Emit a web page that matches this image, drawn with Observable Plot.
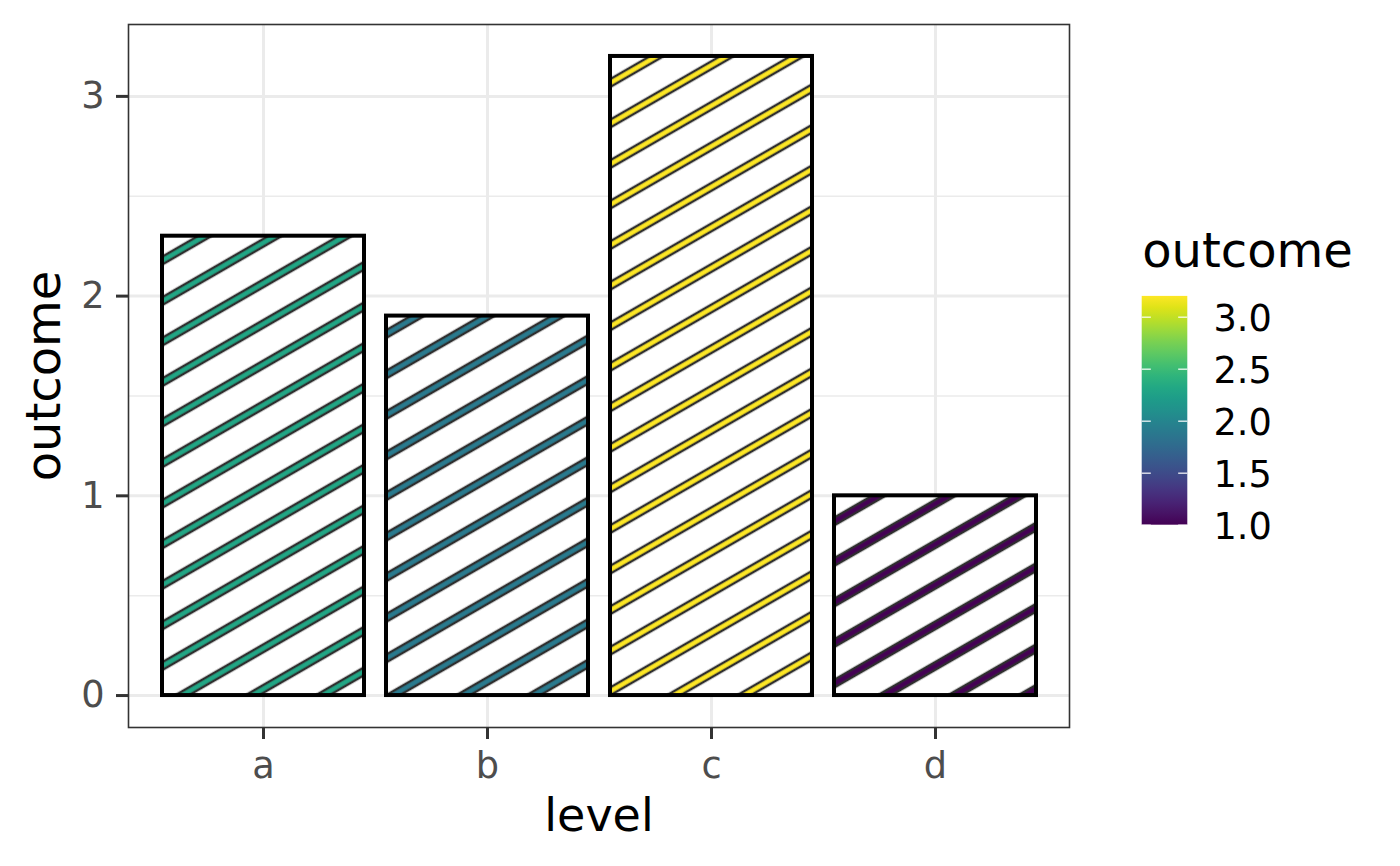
<!DOCTYPE html>
<html><head><meta charset="utf-8">
<script src="https://cdn.jsdelivr.net/npm/d3@7"></script>
<script src="https://cdn.jsdelivr.net/npm/@observablehq/plot@0.6"></script>
<style>
body{margin:0;background:#fff;}
#wrap{position:relative;width:1400px;height:866px;font-family:"DejaVu Sans",sans-serif;}
#wrap svg{position:absolute;top:0;left:0;overflow:visible;}
</style></head><body><div id="wrap"></div>
<script>
const levels = ["a", "b", "c", "d"];
const outcome = [2.3, 1.9, 3.2, 1.0];
const yTicks = [0, 1, 2, 3];
const yMinor = [0.5, 1.5, 2.5];
const legendTicks = [1.0, 1.5, 2.0, 2.5, 3.0];
const legendLabels = ["1.0", "1.5", "2.0", "2.5", "3.0"];

const data = levels.map((level, i) => ({level, outcome: outcome[i]}));
const color = Plot.scale({color: {type: "linear", scheme: "viridis", domain: [d3.min(outcome), d3.max(outcome)]}});

const FONT = "DejaVu Sans";
const main = Plot.plot({
  width: 1400, height: 866,
  marginLeft: 128, marginRight: 331, marginTop: 24, marginBottom: 139,
  style: {fontFamily: FONT, background: "transparent", overflow: "visible"},
  x: {type: "band", domain: levels, paddingInner: 0.1, paddingOuter: 0.15},
  y: {domain: [-0.16, 3.36]},
  marks: [
    Plot.gridY({ticks: yMinor, stroke: "#EBEBEB", strokeOpacity: 1, strokeWidth: 1.5}),
    Plot.gridY({ticks: yTicks, stroke: "#EBEBEB", strokeOpacity: 1, strokeWidth: 3}),
    Plot.gridX({stroke: "#EBEBEB", strokeOpacity: 1, strokeWidth: 3}),
    ...data.map(d => Plot.barY([d], {x: "level", y: "outcome", fill: `url(#stripe-${d.level})`})),
    Plot.barY(data, {x: "level", y: "outcome", fill: "none", stroke: "black", strokeWidth: 4}),
    Plot.frame({stroke: "#333333", strokeWidth: 1.6}),
    Plot.axisY({ticks: yTicks, tickFormat: d => String(d), tickSize: 12, tickPadding: 12, fontSize: 36.7, color: "#4D4D4D", stroke: "#333333", strokeWidth: 3, label: null}),
    Plot.axisX({tickSize: 12, tickPadding: 12, fontSize: 36.7, color: "#4D4D4D", stroke: "#333333", strokeWidth: 3, label: null}),
    Plot.text(["level"], {text: d => d, frameAnchor: "bottom", lineAnchor: "middle", textAnchor: "middle", dy: 88.3, fontSize: 46, fill: "black"}),
    Plot.text(["outcome"], {text: d => d, frameAnchor: "left", lineAnchor: "middle", textAnchor: "middle", rotate: -90, dx: -84, fontSize: 48, fill: "black"})
  ]
});

// stripe patterns (ggpattern-like): 30 degree stripes, global phase
const H = 35.12, V0 = 25.85, SW = 6.8;
let defs = "<defs>";
data.forEach(d => {
  const col = color.apply(d.outcome);
  defs += `<pattern id="stripe-${d.level}" patternUnits="userSpaceOnUse" width="40" height="${H}" patternTransform="rotate(-30)">
    <rect x="0" y="0" width="40" height="${H}" fill="white"/>
    <rect x="-1" y="${V0 - SW / 2}" width="42" height="${SW}" fill="${col}"/>
    <line x1="-1" x2="41" y1="${V0 - SW / 2}" y2="${V0 - SW / 2}" stroke="#2E2E2E" stroke-width="2.5"/>
    <line x1="-1" x2="41" y1="${V0 + SW / 2}" y2="${V0 + SW / 2}" stroke="#2E2E2E" stroke-width="2.5"/>
  </pattern>`;
});
defs += "</defs>";
main.insertAdjacentHTML("afterbegin", defs);

const leg = Plot.plot({
  width: 300, height: 866, margin: 0,
  style: {fontFamily: FONT, background: "transparent", overflow: "visible"},
  x: {domain: [0, 1], range: [41.7, 87.3], axis: null},
  y: {domain: [1, 3.2], range: [524.7, 295.9], axis: null},
  marks: [
    Plot.rect([0], {x1: 0, x2: 1, y1: 1, y2: 3.2, fill: "url(#cbar)"}),
    Plot.ruleY(legendTicks, {x1: 0, x2: 0.2, stroke: "white", strokeWidth: 1.4, strokeOpacity: 0.85}),
    Plot.ruleY(legendTicks, {x1: 0.8, x2: 1, stroke: "white", strokeWidth: 1.4, strokeOpacity: 0.85}),
    Plot.text(legendTicks, {x: 1, y: d => d, text: (d, i) => legendLabels[i], dx: 25.7, dy: 2, textAnchor: "start", fontSize: 36.7, fill: "black"}),
    Plot.text(["outcome"], {x: 0, y: 3.2, text: d => d, dy: -44.5, textAnchor: "start", lineAnchor: "middle", fontSize: 48, fill: "black"})
  ]
});
let stops = "";
for (let i = 0; i <= 20; i++) {
  const t = i / 20;
  stops += `<stop offset="${t}" stop-color="${color.apply(1 + 2.2 * t)}"/>`;
}
leg.insertAdjacentHTML("afterbegin", `<defs><linearGradient id="cbar" x1="0" y1="1" x2="0" y2="0">${stops}</linearGradient></defs>`);
leg.style.left = "1100px";

const wrap = document.getElementById("wrap");
wrap.appendChild(main);
wrap.appendChild(leg);
</script></body></html>
